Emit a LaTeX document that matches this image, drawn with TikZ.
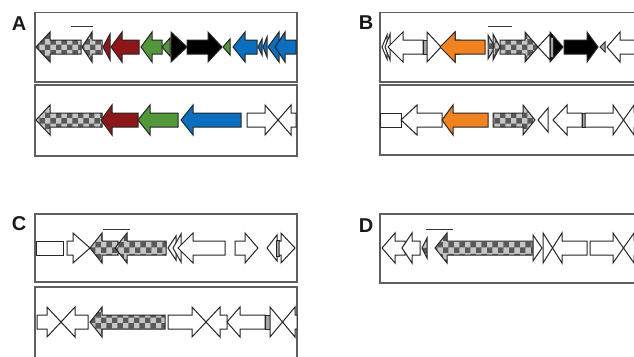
\documentclass[tikz,border=0pt]{standalone}
\usepackage{fontspec}
\setmainfont{Liberation Sans}
\usetikzlibrary{patterns}
\definecolor{gred}{RGB}{140,22,24}
\definecolor{ggreen}{RGB}{84,150,58}
\definecolor{gblue}{RGB}{12,110,190}
\definecolor{gorange}{RGB}{240,130,32}
\definecolor{gbox}{RGB}{95,95,95}
\tikzset{
  gene/.style={draw=black!85, line width=1pt, line join=miter, fill=white},
  chk/.style={preaction={fill=gray!45}, pattern=checkerboard, pattern color=black!65},
  rd/.style={fill=gred},
  gr/.style={fill=ggreen},
  bl/.style={fill=gblue},
  og/.style={fill=gorange},
  bk/.style={fill=black},
  gy/.style={fill=gray!70},
  boxline/.style={draw=gbox, line width=1.6pt},
  bar/.style={draw=black!80, line width=1pt},
  lab/.style={font=\fontsize{20}{20}\selectfont\bfseries, text=black!90, inner sep=0pt}
}
% gene arrow: [style]{tail}{head base}{tip}{centre y}
\newcommand{\gn}[5][]{\draw[gene,#1] (#2,#5-7) -- (#3,#5-7) -- (#3,#5-15) -- (#4,#5) -- (#3,#5+15) -- (#3,#5+7) -- (#2,#5+7) -- cycle;}
% head only: [style]{base}{tip}{centre y}{half height}
\newcommand{\hd}[5][]{\draw[gene,#1] (#2,#4-#5) -- (#3,#4) -- (#2,#4+#5) -- cycle;}
% plain body: [style]{x1}{x2}{centre y}
\newcommand{\bd}[4][]{\draw[gene,#1] (#2,#4-7) rectangle (#3,#4+7);}
% crossing pair (right arrow meeting left arrow): {tail1}{base1}{base2}{tail2}{centre y}
\newcommand{\xp}[5]{\draw[gene] (#1,#5-7) -- (#2,#5-7) -- (#2,#5-15) -- (#3,#5+15) -- (#3,#5+7) -- (#4,#5+7) -- (#4,#5-7) -- (#3,#5-7) -- (#3,#5-15) -- (#2,#5+15) -- (#2,#5+7) -- (#1,#5+7) -- cycle;}
\begin{document}
\begin{tikzpicture}[x=1pt,y=-1pt]
\clip (0,0) rectangle (634,356);
\fill[white] (0,0) rectangle (634,356);

% ---------- Panel A ----------
\node[lab] (labA) at (19,24) {A};
\draw[boxline] (35,12.5) rectangle (297,82);
\draw[boxline] (35,85) rectangle (297,156);
\coordinate (a1) at (71,26); \coordinate (a2) at (93,26);
\draw[bar] (a1) -- (a2);
\gn[chk]{81}{50}{36}{47}
\gn[chk]{102}{92}{82}{47}
\hd[rd]{110}{103}{47}{13}
\gn[rd]{139}{122}{111}{47}
\gn[gr]{162}{152}{141}{47}
\hd[gr]{170}{162}{47}{9}
\hd[bk]{171}{187}{47}{15}
\gn[bk]{187}{208}{222}{47}
\hd[gr]{230}{223}{47}{8}
\gn[bl]{257}{245}{233}{47}
\hd[bl]{262}{258}{47}{8}
\hd[bl]{267}{263}{47}{10}
\hd[bl]{279}{268}{47}{15}
\gn[bl]{296}{285}{275}{47}

\gn[chk]{102}{50}{36}{120}
\gn[rd]{138}{112}{101}{120}
\gn[gr]{178}{150}{138}{120}
\gn[bl]{241}{193}{181}{120}
\xp{247}{265}{291}{296}{120}

% ---------- Panel B ----------
\node[lab] (labB) at (366,23) {B};
\draw[boxline] (380,12.5) rectangle (650,82);
\draw[boxline] (380,85) rectangle (650,155);
\coordinate (b1) at (488,26); \coordinate (b2) at (512,26);
\draw[bar] (b1) -- (b2);
\hd{387}{382}{47}{12}
\hd{390}{385}{47}{13}
\gn{423}{403}{388}{47}
\bd[gy]{423}{427}{47}
\xp{427}{427}{455}{460}{47}
\gn[og]{485}{455}{440}{47}
\hd[chk]{488}{495}{47}{12}
\hd[chk]{493}{500}{47}{13}
\gn[chk]{500}{525}{538}{47}
\hd{550}{538}{47}{13}
\hd[bk]{550}{563}{47}{15}
\draw[gene,gy] (550,37) rectangle (553,57);
\gn[bk]{564}{587}{598}{47}
\hd[gy]{605}{600}{47}{5}
\gn{645}{620}{607}{47}

\bd{380}{401}{120}
\gn{442}{417}{401}{120}
\gn[og]{488}{453}{442}{120}
\gn[chk]{493}{523}{535}{120}
\hd{548}{538}{120}{12}
\gn{582}{567}{553}{120}
\bd[gy]{582}{585}{120}
\xp{585}{613}{634}{645}{120}

% ---------- Panel C ----------
\node[lab] (labC) at (19,224) {C};
\draw[boxline] (35,214) rectangle (297,282);
\draw[boxline] (35,287) rectangle (297,370);
\coordinate (c1) at (103,229.5); \coordinate (c2) at (130,229.5);
\draw[bar] (c1) -- (c2);
\bd{36}{63}{248}
\gn{67}{73}{90}{248}
\gn[chk]{118}{102}{90}{248}
\gn[chk]{166}{127}{115}{248}
\hd{176}{168}{248}{12}
\hd{181}{173}{248}{14}
\gn{225}{193}{178}{248}
\gn{235}{245}{258}{248}
\hd{277}{267}{248}{13}
\draw[gene,gy] (276,240) rectangle (279,256);
\gn{279}{281}{295}{248}

\xp{37}{47}{75}{88}{322}
\gn[chk]{165}{102}{90}{322}
\xp{168}{192}{220}{227}{322}
\gn{265}{240}{227}{322}
\bd[gy]{265}{270}{322}
\xp{270}{270}{295}{297}{322}

% ---------- Panel D ----------
\node[lab] (labD) at (366,226) {D};
\draw[boxline] (380,214) rectangle (650,283);
\coordinate (d1) at (426,229.5); \coordinate (d2) at (453,229.5);
\draw[bar] (d1) -- (d2);
\gn{405}{395}{382}{248}
\gn{420}{412}{402}{248}
\hd[chk]{427}{422}{248}{10}
\gn[chk]{532}{447}{435}{248}
\hd{533}{542}{248}{13}
\xp{543}{543}{562}{587}{248}
\xp{590}{613}{634}{645}{248}
\end{tikzpicture}
\end{document}
